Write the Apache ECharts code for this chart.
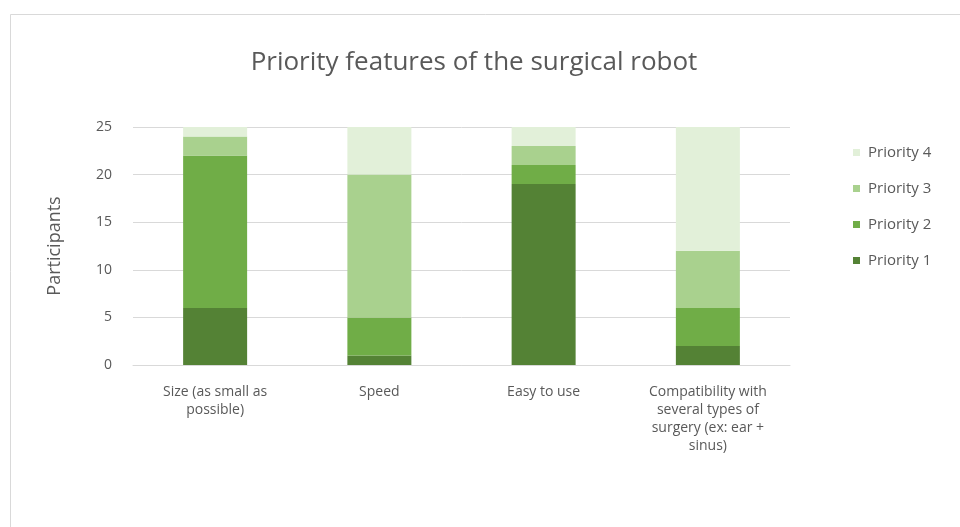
<!DOCTYPE html>
<html>
<head>
<meta charset="utf-8">
<script src="https://cdn.jsdelivr.net/npm/echarts@6/dist/echarts.min.js"></script>
<style>
  html, body { margin: 0; padding: 0; background: #fff; }
  #chart { width: 960px; height: 527px; }
</style>
</head>
<body>
<div id="chart"></div>
<script>
// chart data
const categories = [
  'Size (as small as\npossible)',
  'Speed',
  'Easy to use',
  'Compatibility with\nseveral types of\nsurgery (ex: ear +\nsinus)'
]
const priority1 = [6, 1, 19, 2]
const priority2 = [16, 4, 2, 4]
const priority3 = [2, 15, 2, 6]
const priority4 = [1, 5, 2, 13]
const yTicks = [0, 5, 10, 15, 20, 25]

const seriesNames = ['Priority 1', 'Priority 2', 'Priority 3', 'Priority 4']
const seriesData = [priority1, priority2, priority3, priority4]
const colors = ['#548235', '#70ad47', '#a9d18e', '#e2f0d9']

const font = '"Open Sans", "Noto Sans", sans-serif'
const chart = echarts.init(document.getElementById('chart'))

const option = {
  animation: false,
  backgroundColor: '#fff',
  graphic: [{
    type: 'rect',
    left: 8,
    top: 12,
    shape: { width: 970, height: 530 },
    style: { fill: 'none', stroke: '#d9d9d9', lineWidth: 1 }
  }],
  title: {
    text: 'Priority features of the surgical robot',
    left: 469,
    top: 45,
    textAlign: 'center',
    textStyle: {
      fontFamily: font,
      fontSize: 26,
      fontWeight: 'normal',
      color: '#595959'
    }
  },
  legend: {
    orient: 'vertical',
    left: 848,
    top: 140,
    itemGap: 21,
    itemWidth: 7,
    itemHeight: 7,
    icon: 'rect',
    data: ['Priority 4', 'Priority 3', 'Priority 2', 'Priority 1'],
    textStyle: { fontFamily: font, fontSize: 15, color: '#595959', padding: [0, 0, 0, 3] }
  },
  grid: {
    left: 133,
    right: 170,
    top: 127,
    bottom: 162,
    containLabel: false
  },
  xAxis: {
    type: 'category',
    data: categories,
    axisTick: { show: false },
    axisLine: { lineStyle: { color: '#d9d9d9' } },
    axisLabel: {
      fontFamily: font,
      fontSize: 14,
      color: '#595959',
      lineHeight: 18,
      margin: 18,
      interval: 0
    }
  },
  yAxis: {
    type: 'value',
    min: yTicks[0],
    max: yTicks[yTicks.length - 1],
    interval: 5,
    name: 'Participants',
    nameLocation: 'middle',
    nameGap: 69,
    nameRotate: 90,
    nameTextStyle: { fontFamily: font, fontSize: 18, color: '#595959' },
    axisLine: { show: false },
    axisTick: { show: false },
    splitLine: { lineStyle: { color: '#d9d9d9' } },
    axisLabel: { fontFamily: font, fontSize: 14, color: '#595959', margin: 21 }
  },
  series: seriesNames.map((name, i) => ({
    name: name,
    type: 'bar',
    stack: 'total',
    barWidth: 64,
    itemStyle: { color: colors[i] },
    data: seriesData[i]
  }))
}

chart.setOption(option)
</script>
</body>
</html>
